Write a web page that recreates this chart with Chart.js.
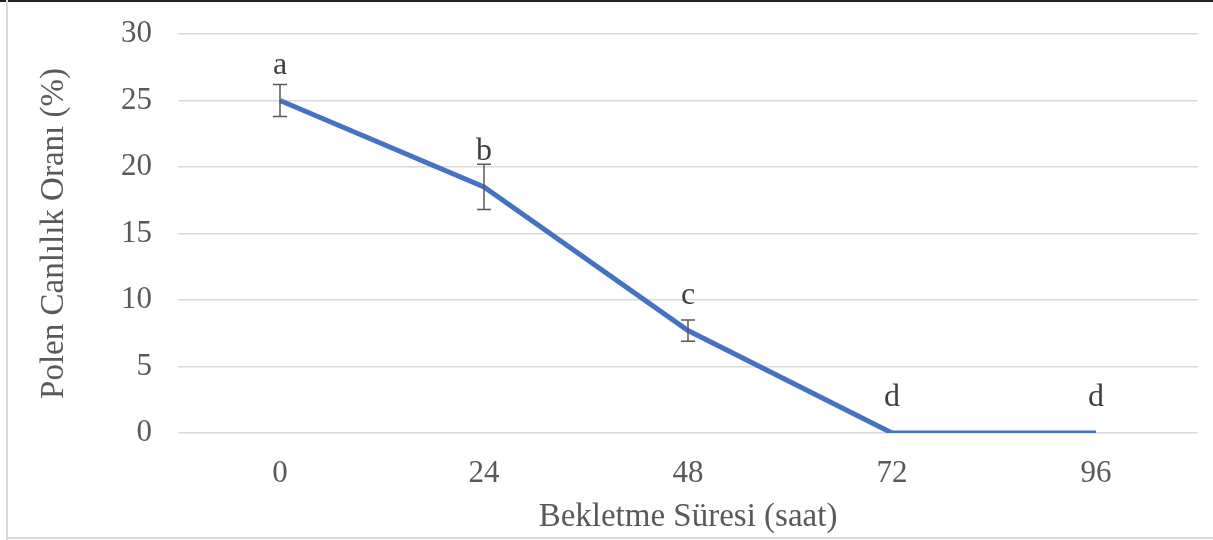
<!DOCTYPE html>
<html>
<head>
<meta charset="utf-8">
<script src="https://cdn.jsdelivr.net/npm/chart.js@4"></script>
<style>
  html, body { margin: 0; padding: 0; background: #fff; }
  #wrap { width: 1213px; height: 540px; position: relative; }
</style>
</head>
<body>
<div id="wrap"><canvas id="polenChart"></canvas></div>
<script>
const saatler = ['0', '24', '48', '72', '96'];
const canlilik = [25, 18.5, 7.7, 0, 0];
const hata = [1.2, 1.7, 0.8, 0, 0];
const harfler = ['a', 'b', 'c', 'd', 'd'];
const yTicks = [0, 5, 10, 15, 20, 25, 30];

const serif = "'Liberation Serif', 'Times New Roman', serif";
const textGray = '#595959';

// error bars + letter labels
const ekstra = {
    id: 'ekstra',
    beforeDraw(chart) {
        const c = chart.ctx;
        c.save();
        c.fillStyle = '#222';
        c.fillRect(0, 0, chart.width, 2);
        c.fillStyle = '#d9d9d9';
        c.fillRect(6, 0, 2, chart.height);
        c.fillRect(6, chart.height - 3, chart.width, 2);
        c.restore();
    },
    afterDatasetsDraw(chart) {
        const c = chart.ctx;
        const x = chart.scales.x, y = chart.scales.y;
        c.save();
        c.strokeStyle = '#595959';
        c.lineWidth = 1.5;
        canlilik.forEach((v, i) => {
            if (!hata[i]) return;
            const px = x.getPixelForValue(i);
            const top = y.getPixelForValue(v + hata[i]);
            const bot = y.getPixelForValue(v - hata[i]);
            c.beginPath();
            c.moveTo(px, top); c.lineTo(px, bot);
            c.moveTo(px - 7, top); c.lineTo(px + 7, top);
            c.moveTo(px - 7, bot); c.lineTo(px + 7, bot);
            c.stroke();
        });
        c.fillStyle = '#404040';
        c.font = '32px ' + serif;
        c.textAlign = 'center';
        c.textBaseline = 'middle';
        canlilik.forEach((v, i) => {
            const px = x.getPixelForValue(i);
            const py = y.getPixelForValue(v) - 35;
            c.fillText(harfler[i], px, py);
        });
        c.restore();
    }
};

new Chart(document.getElementById('polenChart'), {
    type: 'line',
    data: {
        labels: saatler,
        datasets: [{
            data: canlilik,
            borderColor: '#4472C4',
            borderWidth: 5,
            pointRadius: 0,
            tension: 0,
            fill: false
        }]
    },
    options: {
        responsive: true,
        maintainAspectRatio: false,
        animation: false,
        layout: { padding: { left: 8, right: 15, top: 34, bottom: 0 } },
        plugins: { legend: { display: false }, tooltip: { enabled: false } },
        scales: {
            x: {
                offset: true,
                grid: { display: false, drawTicks: false },
                border: { display: false },
                ticks: { color: textGray, font: { family: serif, size: 31 }, padding: 22 },
                title: {
                    display: true, text: 'Bekletme Süresi (saat)', color: textGray,
                    font: { family: serif, size: 33 }, padding: { top: 0, bottom: 3 }
                },
                afterFit(s) { s.height = 107; s.paddingLeft = 0; s.paddingRight = 0; }
            },
            y: {
                min: 0, max: 30,
                afterBuildTicks(s) { s.ticks = yTicks.map(v => ({ value: v })); },
                grid: { color: '#d9d9d9', lineWidth: 1.5, drawTicks: false },
                border: { display: false },
                ticks: { color: textGray, font: { family: serif, size: 31 }, padding: 26 },
                title: {
                    display: true, text: 'Polen Canlılık Oranı (%)', color: textGray,
                    font: { family: serif, size: 33 }, padding: { top: 27, bottom: 0 }
                },
                afterFit(s) { s.width = 170; s.paddingTop = 0; s.paddingBottom = 0; }
            }
        }
    },
    plugins: [ekstra]
});
</script>
</body>
</html>
